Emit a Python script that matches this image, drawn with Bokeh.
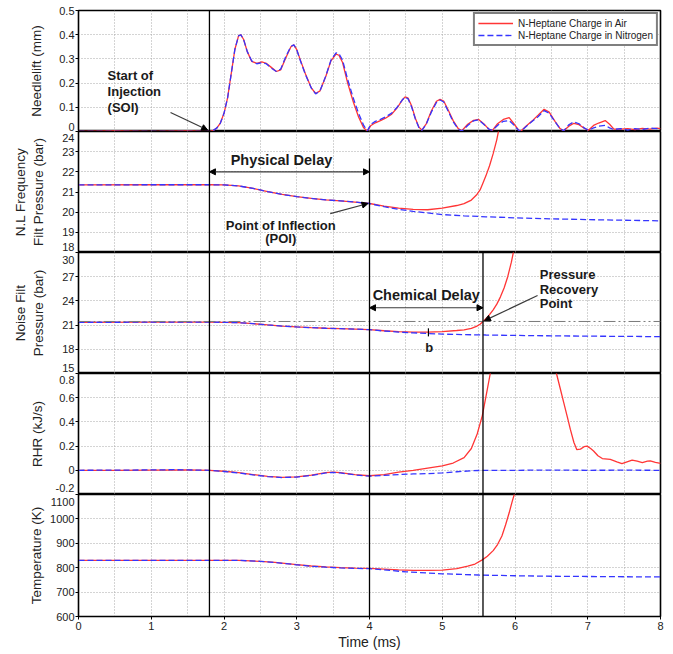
from bokeh.plotting import figure
from bokeh.layouts import column
from bokeh.models import (Range1d, FixedTicker, Span, Arrow, NormalHead, Label,
                          Legend, LegendItem)
from bokeh.embed import file_html
from bokeh.resources import INLINE

FONT = "Liberation Sans"
RED = "#ff3535"
BLUE = "#3535ff"
INK = "#222222"

# ---------------- data ----------------
# Needle lift (mm)
needle_t = [0.00, 0.50, 1.00, 1.50, 1.80, 1.85, 1.90, 1.95, 2.00, 2.05, 2.10, 2.15, 2.20, 2.23,
            2.27, 2.32, 2.38, 2.45, 2.52, 2.58, 2.65, 2.72, 2.78, 2.85, 2.92, 2.96, 3.00, 3.05,
            3.12, 3.20, 3.26, 3.32, 3.40, 3.47, 3.54, 3.58, 3.63, 3.70, 3.78, 3.85, 3.92, 3.97,
            4.02, 4.08, 4.15, 4.22, 4.30, 4.38, 4.45, 4.49, 4.53, 4.58, 4.63, 4.68, 4.72, 4.78,
            4.85, 4.92, 4.97, 5.02, 5.08, 5.15, 5.22, 5.27, 5.35, 5.43, 5.50, 5.57, 5.64, 5.69,
            5.76, 5.84, 5.92, 5.99, 6.05, 6.08, 6.15, 6.25, 6.32, 6.40, 6.47, 6.55, 6.62, 6.67,
            6.74, 6.81, 6.88, 6.95, 7.01, 7.08, 7.15, 7.24, 7.30, 7.36, 7.45, 7.55, 7.65, 7.75,
            7.85, 7.95, 8.00]
needle_n2 = [0.000, 0.000, 0.000, 0.000, 0.000, 0.004, 0.014, 0.035, 0.075, 0.140, 0.240, 0.340,
             0.395, 0.400, 0.380, 0.330, 0.292, 0.280, 0.284, 0.280, 0.262, 0.248, 0.258, 0.310,
             0.352, 0.358, 0.338, 0.292, 0.235, 0.180, 0.155, 0.168, 0.230, 0.295, 0.325, 0.322,
             0.295, 0.215, 0.135, 0.075, 0.025, 0.003, 0.030, 0.042, 0.050, 0.060, 0.075, 0.100,
             0.130, 0.142, 0.135, 0.100, 0.052, 0.016, 0.005, 0.030, 0.080, 0.120, 0.130, 0.122,
             0.085, 0.040, 0.010, 0.002, 0.025, 0.044, 0.048, 0.030, 0.010, 0.005, 0.025, 0.042,
             0.045, 0.025, 0.005, 0.001, 0.020, 0.045, 0.062, 0.086, 0.076, 0.040, 0.012, 0.003,
             0.028, 0.040, 0.032, 0.015, 0.005, 0.015, 0.022, 0.025, 0.015, 0.008, 0.012, 0.006,
             0.012, 0.008, 0.014, 0.012, 0.012]
needle_air = [0.000, 0.002, 0.000, 0.002, 0.000, 0.004, 0.014, 0.035, 0.075, 0.140, 0.240, 0.340,
              0.395, 0.400, 0.380, 0.330, 0.290, 0.282, 0.288, 0.282, 0.265, 0.248, 0.255, 0.305,
              0.350, 0.358, 0.338, 0.295, 0.238, 0.180, 0.157, 0.168, 0.228, 0.292, 0.320, 0.315,
              0.285, 0.200, 0.120, 0.060, 0.015, 0.002, 0.025, 0.036, 0.045, 0.055, 0.070, 0.098,
              0.130, 0.143, 0.138, 0.105, 0.055, 0.018, 0.006, 0.032, 0.085, 0.125, 0.133, 0.126,
              0.090, 0.045, 0.012, 0.003, 0.030, 0.046, 0.050, 0.032, 0.010, 0.005, 0.032, 0.050,
              0.057, 0.030, 0.006, 0.001, 0.022, 0.048, 0.068, 0.092, 0.080, 0.042, 0.012, 0.003,
              0.022, 0.034, 0.028, 0.014, 0.005, 0.025, 0.035, 0.045, 0.030, 0.010, 0.010, 0.012,
              0.008, 0.013, 0.010, 0.014, 0.012]

# Cylinder pressure (bar)
press_air_t = [0.0, 1.0, 1.8, 2.0, 2.2, 2.4, 2.6, 2.8, 3.0, 3.2, 3.4, 3.6, 3.8, 4.0, 4.2, 4.4,
               4.6, 4.8, 5.0, 5.2, 5.3, 5.4, 5.47, 5.52, 5.56, 5.6, 5.65, 5.7, 5.75, 5.8, 5.85,
               5.9, 5.95, 6.0]
press_air = [21.35, 21.36, 21.36, 21.35, 21.30, 21.18, 21.02, 20.88, 20.77, 20.68, 20.61, 20.56,
             20.50, 20.43, 20.30, 20.20, 20.14, 20.12, 20.20, 20.33, 20.42, 20.60, 20.85, 21.10,
             21.45, 21.80, 22.30, 22.90, 23.60, 24.50, 25.60, 27.00, 28.80, 31.00]
press_n2_t = [0.0, 1.0, 1.8, 2.0, 2.2, 2.4, 2.6, 2.8, 3.0, 3.2, 3.4, 3.6, 3.8, 4.0, 4.2, 4.4,
              4.6, 4.8, 5.0, 5.3, 5.6, 6.0, 6.5, 7.0, 7.5, 8.0]
press_n2 = [21.35, 21.36, 21.36, 21.35, 21.30, 21.18, 21.02, 20.88, 20.77, 20.68, 20.61, 20.56,
            20.50, 20.43, 20.27, 20.14, 20.04, 19.96, 19.88, 19.82, 19.77, 19.72, 19.67, 19.63,
            19.60, 19.57]
initial_pressure = 21.45

# Rate of heat release (kJ/s)
rhr_air_t = [0.0, 0.5, 1.0, 1.5, 1.8, 2.0, 2.2, 2.4, 2.6, 2.8, 3.0, 3.2, 3.4, 3.5, 3.6, 3.8,
             4.0, 4.2, 4.4, 4.6, 4.8, 5.0, 5.15, 5.3, 5.4, 5.48, 5.55, 5.62, 5.66, 5.7, 5.75,
             6.0, 6.3, 6.52, 6.57, 6.62, 6.67, 6.72, 6.76, 6.81, 6.85, 6.9, 6.95, 6.99, 7.04,
             7.08, 7.14, 7.2, 7.31, 7.4, 7.47, 7.54, 7.61, 7.68, 7.75, 7.82, 7.86, 7.93, 8.0]
rhr_air = [0.0, 0.0, 0.002, 0.003, 0.0, -0.008, -0.02, -0.035, -0.05, -0.058, -0.055, -0.04,
           -0.02, -0.015, -0.02, -0.035, -0.045, -0.035, -0.015, 0.0, 0.018, 0.036, 0.06, 0.105,
           0.18, 0.30, 0.45, 0.67, 0.80, 0.95, 1.30, 2.50, 2.00, 1.10, 0.80, 0.68, 0.56, 0.44,
           0.34, 0.23, 0.17, 0.175, 0.195, 0.20, 0.18, 0.16, 0.12, 0.097, 0.09, 0.07, 0.055,
           0.07, 0.085, 0.075, 0.064, 0.075, 0.077, 0.065, 0.058]
rhr_n2_t = [0.0, 1.0, 1.3, 1.5, 1.8, 2.0, 2.2, 2.4, 2.6, 2.8, 3.0, 3.2, 3.4, 3.5, 3.6, 3.8,
            4.0, 4.2, 4.4, 4.6, 4.8, 5.0, 5.2, 5.4, 5.6, 6.0, 6.5, 7.0, 7.5, 8.0]
rhr_n2 = [0.0, 0.003, 0.005, 0.003, 0.0, -0.01, -0.022, -0.038, -0.052, -0.06, -0.056, -0.042,
          -0.022, -0.017, -0.022, -0.038, -0.048, -0.042, -0.035, -0.03, -0.028, -0.022, -0.012,
          -0.004, 0.0, 0.0, 0.002, 0.0, 0.001, 0.0]

# Bulk gas temperature (K)
temp_air_t = [0.0, 1.8, 2.2, 2.5, 2.7, 3.0, 3.2, 3.4, 3.6, 3.8, 4.0, 4.2, 4.4, 4.6, 4.8, 5.0,
              5.2, 5.35, 5.45, 5.55, 5.62, 5.7, 5.76, 5.82, 5.87, 5.92, 5.96, 6.0]
temp_air = [830, 830, 830, 826, 822, 813, 807, 803, 800, 798, 797, 794, 791, 789, 789, 790,
            796, 806, 815, 832, 847, 870, 895, 930, 975, 1025, 1070, 1110]
temp_n2_t = [0.0, 1.8, 2.2, 2.5, 2.7, 3.0, 3.2, 3.4, 3.6, 3.8, 4.0, 4.2, 4.5, 5.0, 5.5, 6.0,
             6.5, 7.0, 7.5, 8.0]
temp_n2 = [830, 830, 830, 826, 821, 812, 806, 802, 799, 797, 796, 791, 783, 775, 770, 767,
           765, 764, 763, 762]

# Event times (ms)
t_soi = 1.8
t_poi = 4.0
t_prp = 5.56

x_ticks = [0, 1, 2, 3, 4, 5, 6, 7, 8]
x_grid = [0.5 * i for i in range(1, 16)]

# ---------------- layout helpers ----------------
xr = Range1d(0, 8)
FRAME_W = 582


def panel(y0, y1, ticks, labels, title, standoff, top=0, bottom=0, fh=121,
          nudge_top=0, nudge_bottom=0):
    """One stacked panel. Tick labels at the frame edges are nudged inward by
    a few pixels so they do not collide with the neighbouring panel; the
    tick marks themselves stay at the true values (drawn as minor ticks)."""
    p = figure(frame_width=FRAME_W, frame_height=fh, x_range=xr, y_range=Range1d(y0, y1),
               output_backend="svg", toolbar_location=None, min_border=0,
               min_border_left=78, min_border_right=13, min_border_top=top,
               min_border_bottom=bottom)
    p.background_fill_color = "white"
    p.border_fill_color = "white"
    p.outline_line_color = "black"
    p.outline_line_width = 1.6
    p.xgrid.ticker = FixedTicker(ticks=x_grid)
    p.ygrid.ticker = FixedTicker(ticks=ticks)
    for g in (p.xgrid, p.ygrid):
        g.grid_line_color = "#a8a8a8"
        g.grid_line_dash = "1 2"
        g.grid_line_width = 1

    per_px = (y1 - y0) / fh
    label_pos = list(ticks)
    if nudge_top:
        label_pos[-1] = ticks[-1] - nudge_top * per_px
    if nudge_bottom:
        label_pos[0] = ticks[0] + nudge_bottom * per_px
    ax = p.yaxis[0]
    ax.ticker = FixedTicker(ticks=label_pos, minor_ticks=list(ticks))
    ax.major_label_overrides = {pos: lab for pos, lab in zip(label_pos, labels)}
    ax.axis_line_color = "black"
    ax.major_tick_line_color = None
    ax.major_tick_out = 3
    ax.major_tick_in = 0
    ax.minor_tick_out = 3
    ax.minor_tick_in = 0
    ax.minor_tick_line_color = "black"
    ax.major_label_standoff = 1
    ax.major_label_text_font = FONT
    ax.major_label_text_font_size = "11px"
    ax.major_label_text_color = INK
    ax.axis_label = title
    ax.axis_label_text_font = FONT
    ax.axis_label_text_font_size = "13.5px"
    ax.axis_label_text_font_style = "normal"
    ax.axis_label_text_color = INK
    ax.axis_label_standoff = standoff
    return p


def note(p, x, y, text, size="13px", align="left"):
    p.add_layout(Label(x=x, y=y, text=text, text_font=FONT, text_font_style="bold",
                       text_font_size=size, text_align=align, text_baseline="middle",
                       text_color="#1a1a1a"))


def head():
    return NormalHead(size=6, fill_color="black", line_color="black", line_width=1)


def arrow(p, x0, y0, x1, y1, both=False):
    p.add_layout(Arrow(end=head(), start=head() if both else None, x_start=x0, y_start=y0,
                       x_end=x1, y_end=y1, line_color="#3a3a3a", line_width=1.2))


def vline(p, x):
    p.add_layout(Span(location=x, dimension="height", line_color="black", line_width=1.3))


def curves(p, ta, ya, tn, yn):
    ra = p.line(ta, ya, line_color=RED, line_width=1.3)
    rn = p.line(tn, yn, line_color=BLUE, line_width=1.3, line_dash="6 3")
    return ra, rn


# ---------------- needle lift ----------------
p1 = panel(0, 0.5, [0, 0.1, 0.2, 0.3, 0.4, 0.5], ["0", "0.1", "0.2", "0.3", "0.4", "0.5"],
           "Needlelift (mm)", 12, top=10, nudge_bottom=5)
p1.xaxis.visible = False
ra, rn = curves(p1, needle_t, needle_air, needle_t, needle_n2)
vline(p1, t_soi)
note(p1, 0.40, 0.231, "Start of")
note(p1, 0.40, 0.165, "Injection")
note(p1, 0.40, 0.099, "(SOI)")
arrow(p1, 1.265, 0.0785, 1.775, 0.006)
leg = Legend(items=[LegendItem(label="N-Heptane Charge in Air", renderers=[ra]),
                    LegendItem(label="N-Heptane Charge in Nitrogen", renderers=[rn])],
             location="top_right", label_text_font=FONT, label_text_font_size="10px",
             label_text_color=INK, glyph_width=35, glyph_height=12, label_height=12,
             label_standoff=5, spacing=0, padding=3, margin=2, border_line_color="black",
             border_line_width=2, background_fill_color="white", background_fill_alpha=1)
p1.add_layout(leg)

# ---------------- low-frequency filtered pressure ----------------
p2 = panel(18, 24, [18, 19, 20, 21, 22, 23, 24], ["18", "19", "20", "21", "22", "23", "24"],
           "N.L Frequency\nFilt Pressure (bar)", 13, nudge_top=6, nudge_bottom=6)
p2.xaxis.visible = False
curves(p2, press_air_t, press_air, press_n2_t, press_n2)
vline(p2, t_soi)
p2.segment(x0=[t_poi], y0=[18], x1=[t_poi], y1=[22.66], line_color="black", line_width=1.3)
note(p2, 2.79, 22.61, "Physical Delay", size="14.5px", align="center")
arrow(p2, t_soi, 22, t_poi, 22, both=True)
note(p2, 2.78, 19.34, "Point of Inflection", align="center")
note(p2, 2.78, 18.69, "(POI)", align="center")
arrow(p2, 3.46, 19.93, 3.98, 20.43)

# ---------------- noise filtered pressure ----------------
p3 = panel(15, 30, [15, 18, 21, 24, 27, 30], ["15", "18", "21", "24", "27", "30"],
           "Noise Filt\nPressure (bar)", 13, nudge_top=7, nudge_bottom=6)
p3.xaxis.visible = False
p3.add_layout(Span(location=initial_pressure, dimension="width", line_color="#7a7a7a",
                   line_width=1, line_dash="12 3 2 3 2 3"))
curves(p3, press_air_t, press_air, press_n2_t, press_n2)
vline(p3, t_soi)
vline(p3, t_poi)
vline(p3, t_prp)
note(p3, 4.78, 24.67, "Chemical Delay", size="14.5px", align="center")
arrow(p3, t_poi, 23.15, t_prp, 23.15, both=True)
p3.segment(x0=[4.81], y0=[19.6], x1=[4.81], y1=[20.6], line_color="black", line_width=1.2)
note(p3, 4.82, 18.23, "b", align="center")
note(p3, 6.34, 27.27, "Pressure")
note(p3, 6.34, 25.41, "Recovery")
note(p3, 6.34, 23.68, "Point")
arrow(p3, 6.31, 24.67, 5.58, 21.55)

# ---------------- rate of heat release ----------------
p4 = panel(-0.2, 0.8, [-0.2, 0, 0.2, 0.4, 0.6, 0.8], ["-0.2", "0", "0.2", "0.4", "0.6", "0.8"],
           "RHR (kJ/s)", 8, nudge_top=6, nudge_bottom=7)
p4.xaxis.visible = False
curves(p4, rhr_air_t, rhr_air, rhr_n2_t, rhr_n2)
vline(p4, t_soi)
vline(p4, t_poi)
vline(p4, t_prp)

# ---------------- temperature ----------------
p5 = panel(600, 1100, [600, 700, 800, 900, 1000, 1100],
           ["600", "700", "800", "900", "1000", "1100"],
           "Temperature (K)", 3, bottom=30, fh=122, nudge_top=7)
curves(p5, temp_air_t, temp_air, temp_n2_t, temp_n2)
vline(p5, t_soi)
vline(p5, t_poi)
vline(p5, t_prp)
xa = p5.xaxis[0]
xa.ticker = FixedTicker(ticks=x_ticks)
xa.axis_line_color = "black"
xa.major_tick_out = 3
xa.major_tick_in = 0
xa.minor_tick_line_color = None
xa.major_label_standoff = 2
xa.major_label_text_font = FONT
xa.major_label_text_font_size = "11px"
xa.major_label_text_color = INK
xa.axis_label = "Time (ms)"
xa.axis_label_text_font = FONT
xa.axis_label_text_font_size = "14px"
xa.axis_label_text_font_style = "normal"
xa.axis_label_text_color = INK
xa.axis_label_standoff = 1

layout = column(p1, p2, p3, p4, p5, spacing=0)
open("out.html", "w").write(file_html(layout, INLINE))
